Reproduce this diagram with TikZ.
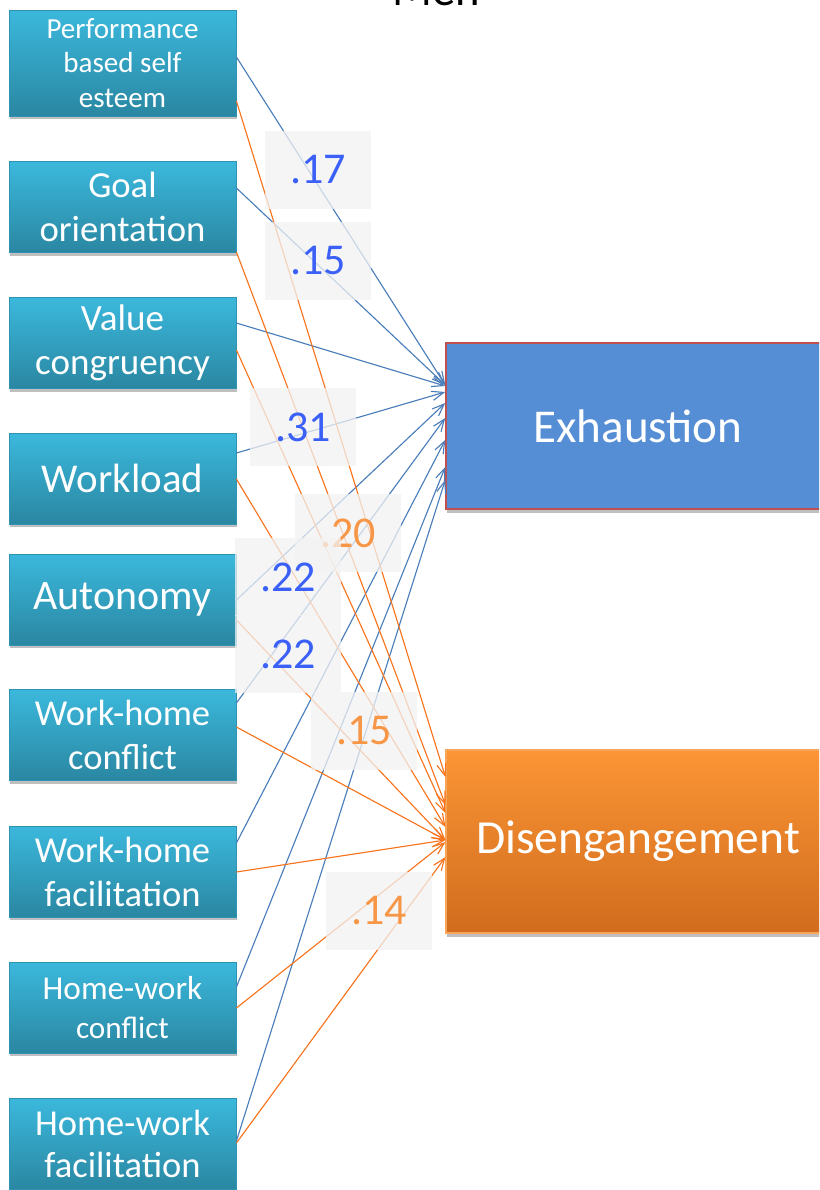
\documentclass[tikz,border=0pt]{standalone}
\usepackage{fontspec}
\setmainfont{Carlito}
\usetikzlibrary{arrows.meta,shadows}
\definecolor{boxtop}{HTML}{3BB8DC}
\definecolor{boxbot}{HTML}{2A87A2}
\definecolor{boxedge}{HTML}{2E93B2}
\definecolor{exhfill}{HTML}{558ED5}
\definecolor{exhedge}{HTML}{C0504D}
\definecolor{distop}{HTML}{FB9535}
\definecolor{disbot}{HTML}{D16C1E}
\definecolor{disedge}{HTML}{F9A65A}
\definecolor{lineblue}{HTML}{4A7EBB}
\definecolor{lineorange}{HTML}{F7731C}
\definecolor{numblue}{HTML}{3A60F8}
\definecolor{numorange}{HTML}{F79646}
\definecolor{labfill}{HTML}{F2F2F2}
\begin{document}
\begin{tikzpicture}[x=0.75pt,y=-0.75pt,
  leftbox/.style={minimum width=170.25pt, minimum height=68.25pt, inner sep=0pt,
    align=center, text=white, top color=boxtop, bottom color=boxbot,
    draw=boxedge, line width=0.6pt,
    drop shadow={shadow xshift=1pt, shadow yshift=-2.5pt, opacity=0.25, fill=black}},
  lab/.style={fill=labfill, fill opacity=0.75, text opacity=1, minimum width=79.5pt,
    minimum height=58.5pt, inner sep=0pt, font=\fontsize{33}{33}\selectfont},
  bl/.style={draw=lineblue, line width=0.85pt, -{Straight Barb[length=9pt,width=7pt]}},
  orl/.style={draw=lineorange, line width=0.85pt, -{Straight Barb[length=9pt,width=7pt]}}]
\useasboundingbox (0,0) rectangle (819,1190);
\clip (0,0) rectangle (819,1190);

\node[anchor=base, font=\fontsize{35}{35}\selectfont] (title) at (436,5) {Men};

\node[leftbox, minimum height=79.5pt, font=\fontsize{21.8}{26}\selectfont] (pbse) at (122.5,63) {Performance\\based self\\esteem};
\node[leftbox, font=\fontsize{27.5}{33}\selectfont] (go) at (122.5,207) {Goal\\orientation};
\node[leftbox, font=\fontsize{27.8}{33}\selectfont] (vc) at (122.5,343) {Value\\congruency};
\node[leftbox, font=\fontsize{30.7}{33}\selectfont] (wl) at (122.5,478.5) {Workload};
\node[leftbox, font=\fontsize{31.4}{33}\selectfont] (au) at (122.5,599.5) {Autonomy};
\node[leftbox, font=\fontsize{27.4}{33}\selectfont] (whc) at (122.5,735) {Work-home\\conflict};
\node[leftbox, font=\fontsize{27.4}{33}\selectfont] (whf) at (122.5,871.5) {Work-home\\facilitation};
\node[leftbox, font=\fontsize{25}{29}\selectfont] (hwc) at (122.5,1007.5) {Home-work\\{\fontsize{23.4}{29}\selectfont conflict}};
\node[leftbox, font=\fontsize{27.4}{32}\selectfont] (hwf) at (122.5,1144) {Home-work\\facilitation};

\node[minimum width=288pt, minimum height=124.5pt, inner sep=0pt, fill=exhfill,
  draw=exhedge, line width=1.1pt, text=white, font=\fontsize{35.3}{40}\selectfont,
  drop shadow={shadow xshift=1pt, shadow yshift=-3pt, opacity=0.25, fill=black}] (exh) at (638,426) {Exhaustion};
\node[minimum width=288pt, minimum height=137.25pt, inner sep=0pt, top color=distop,
  bottom color=disbot, draw=disedge, line width=0.8pt, text=white, font=\fontsize{35.6}{40}\selectfont,
  drop shadow={shadow xshift=1pt, shadow yshift=-3pt, opacity=0.25, fill=black}] (dis) at (638,841.5) {Disengangement};

% blue paths to Exhaustion
\draw[bl] (pbse.east |- 0,57) -- (exh.west |- 0,385);
\draw[bl] (go.east |- 0,188) -- (exh.west |- 0,385);
\draw[bl] (vc.east |- 0,323) -- (exh.west |- 0,386);
\draw[bl] (wl.east |- 0,453) -- (exh.west |- 0,392);
\draw[bl] (au.east |- 0,600) -- (exh.west |- 0,403);
\draw[bl] (whc.east |- 0,703) -- (exh.west |- 0,418);
\draw[bl] (whf.east |- 0,843) -- (exh.west |- 0,440);
\draw[bl] (hwc.east |- 0,987) -- (exh.west |- 0,467);
\draw[bl] (hwf.east |- 0,1141) -- (exh.west |- 0,480);

% orange paths to Disengangement
\draw[orl] (pbse.east |- 0,101) -- (dis.west |- 0,777);
\draw[orl] (go.east |- 0,252) -- (dis.west |- 0,805);
\draw[orl] (vc.east |- 0,350) -- (dis.west |- 0,813);
\draw[orl] (wl.east |- 0,479) -- (dis.west |- 0,827);
\draw[orl] (au.east |- 0,620) -- (dis.west |- 0,840);
\draw[orl] (whc.east |- 0,727) -- (dis.west |- 0,840);
\draw[orl] (whf.east |- 0,872) -- (dis.west |- 0,840);
\draw[orl] (hwc.east |- 0,1008) -- (dis.west |- 0,842);
\draw[orl] (hwf.east |- 0,1143) -- (dis.west |- 0,857);

% coefficient labels
\node[lab, text=numblue] (l17) at (318,170) {.17};
\node[lab, text=numblue] (l15b) at (318,260.5) {.15};
\node[lab, text=numblue] (l31) at (303,427) {.31};
\node[lab, text=numorange] (l20) at (348,533) {.20};
\node[lab, text=numblue] (l22a) at (288,577) {.22};
\node[lab, text=numblue] (l22b) at (288,654) {.22};
\node[lab, text=numorange] (l15o) at (364,731) {.15};
\node[lab, text=numorange] (l14) at (379,911) {.14};
\end{tikzpicture}
\end{document}
